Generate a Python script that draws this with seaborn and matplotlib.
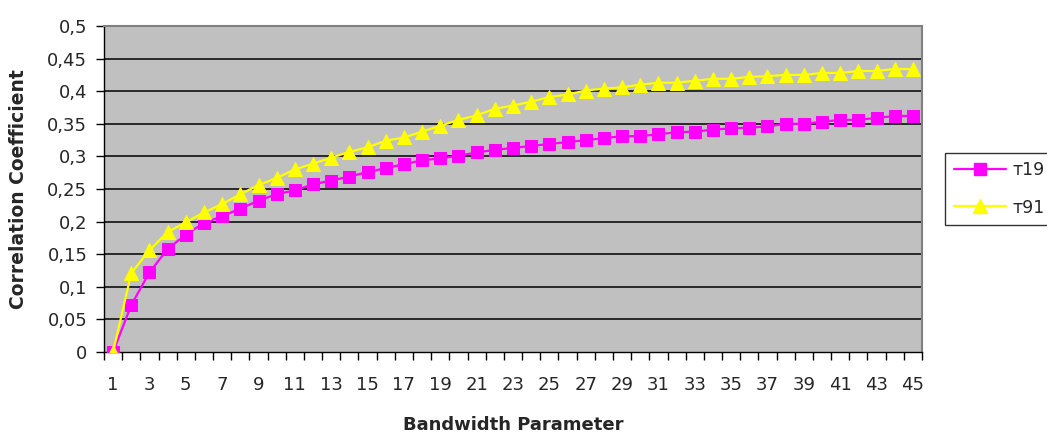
import matplotlib
matplotlib.use("Agg")
import matplotlib.pyplot as plt
from matplotlib.lines import Line2D
import seaborn as sns
import pandas as pd
import numpy as np

bandwidth = list(range(1, 46))
tau19 = [0.0, 0.072, 0.122, 0.158, 0.180, 0.198, 0.208, 0.220, 0.232, 0.242,
         0.248, 0.257, 0.263, 0.269, 0.276, 0.282, 0.288, 0.294, 0.297, 0.301,
         0.306, 0.310, 0.313, 0.316, 0.319, 0.322, 0.325, 0.328, 0.331, 0.331,
         0.334, 0.337, 0.338, 0.341, 0.343, 0.344, 0.346, 0.350, 0.350, 0.353,
         0.356, 0.356, 0.359, 0.362, 0.362]
tau91 = [0.0, 0.121, 0.156, 0.184, 0.199, 0.214, 0.227, 0.242, 0.256, 0.267,
         0.280, 0.289, 0.298, 0.307, 0.314, 0.324, 0.329, 0.338, 0.347, 0.356,
         0.363, 0.373, 0.378, 0.384, 0.391, 0.395, 0.401, 0.404, 0.406, 0.410,
         0.413, 0.413, 0.416, 0.419, 0.419, 0.422, 0.423, 0.425, 0.425, 0.428,
         0.428, 0.431, 0.431, 0.434, 0.434]
series_names = ["т19", "т91"]
y_ticks = [0, 0.05, 0.1, 0.15, 0.2, 0.25, 0.3, 0.35, 0.4, 0.45, 0.5]
y_tick_labels = ["0", "0,05", "0,1", "0,15", "0,2", "0,25", "0,3", "0,35", "0,4", "0,45", "0,5"]
x_label = "Bandwidth Parameter"
y_label = "Correlation Coefficient"

sns.set_style("white")
plt.rcParams["font.family"] = ["DejaVu Sans"]

df = pd.DataFrame({
    "pos": list(range(len(bandwidth))) * 2,
    "value": tau19 + tau91,
    "series": [series_names[0]] * len(tau19) + [series_names[1]] * len(tau91),
})

fig = plt.figure(figsize=(10.47, 4.34), dpi=100)
ax = fig.add_axes([104 / 1047, 1 - 352 / 434, (922 - 104) / 1047, (352 - 26) / 434])
ax.set_facecolor("#C0C0C0")

colors = {series_names[0]: "#FF00FF", series_names[1]: "#FFFF00"}
markers = {series_names[0]: "s", series_names[1]: "^"}
sizes = {series_names[0]: 8, series_names[1]: 10}
for name in series_names:
    sub = df[df["series"] == name]
    sns.lineplot(data=sub, x="pos", y="value", ax=ax, color=colors[name],
                 marker=markers[name], markersize=sizes[name],
                 markeredgecolor=colors[name], linewidth=1.6, legend=False,
                 zorder=3)

ax.set_xlim(-0.5, len(bandwidth) - 0.5)
ax.set_ylim(0, 0.5)
ax.set_yticks(y_ticks)
ax.set_yticklabels(y_tick_labels, fontsize=13)
for y in y_ticks[1:-1]:
    ax.axhline(y, color="black", linewidth=1.1, zorder=1)

pos = np.arange(len(bandwidth))
ax.set_xticks(pos[::2])
ax.set_xticklabels([str(b) for b in bandwidth[::2]], fontsize=13)
ax.set_xticks(np.arange(-0.5, len(bandwidth), 1), minor=True)
ax.tick_params(axis="x", which="major", length=0, pad=17)
ax.tick_params(axis="x", which="minor", length=6, width=1, direction="out", color="black")
ax.tick_params(axis="y", which="major", length=6, width=1, direction="out", color="black", pad=6)
ax.xaxis.set_ticks_position("bottom")
ax.yaxis.set_ticks_position("left")

ax.set_xlabel(x_label, fontsize=13, fontweight="bold", va="center")
ax.xaxis.set_label_coords(0.5, (352 - 425) / 326)
ax.set_ylabel(y_label, fontsize=13.5, fontweight="bold", va="center")
ax.yaxis.set_label_coords((18 - 104) / 818, 0.5)

for side in ["top", "right"]:
    ax.spines[side].set_color("#808080")
    ax.spines[side].set_linewidth(1.5)
for side in ["left", "bottom"]:
    ax.spines[side].set_color("black")
    ax.spines[side].set_linewidth(1.0)
    ax.spines[side].set_visible(True)

handles = [Line2D([0], [0], color=colors[n], marker=markers[n], markersize=sizes[n],
                  markeredgecolor=colors[n], linewidth=1.6) for n in series_names]
leg = fig.legend(handles, series_names, loc="center left",
                 bbox_to_anchor=(945 / 1047, 1 - 189 / 434), fontsize=12.5,
                 frameon=True, fancybox=False, edgecolor="black",
                 handlelength=3.0, handletextpad=0.4, labelspacing=1.1,
                 borderpad=0.5, borderaxespad=0)
leg.get_frame().set_linewidth(1.0)

fig.savefig("out.png", dpi=100, facecolor="white")
